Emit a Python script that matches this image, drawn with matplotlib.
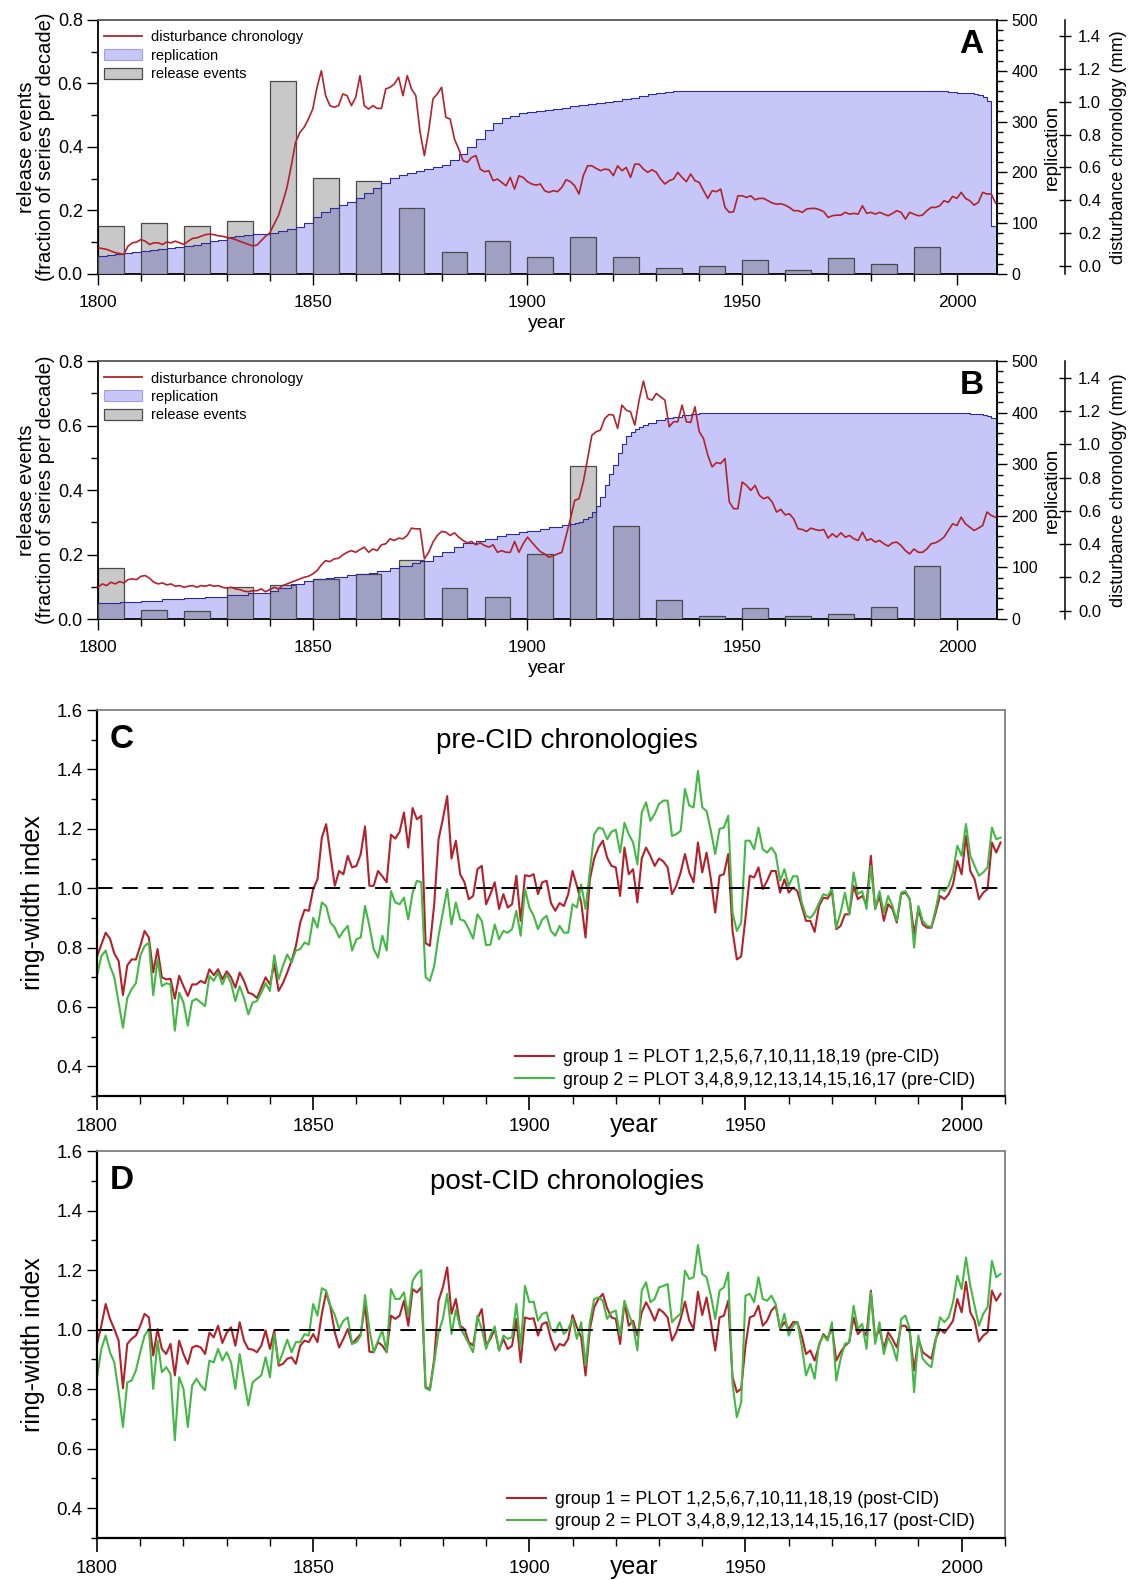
import numpy as np
import matplotlib
matplotlib.use("Agg")
import matplotlib.pyplot as plt
from matplotlib.ticker import MultipleLocator, FormatStrFormatter
from matplotlib.lines import Line2D
from matplotlib.patches import Patch

plt.rcParams['font.family'] = ['Liberation Sans', 'DejaVu Sans']

YEARS = np.arange(1800, 2010)
DECADES = np.arange(1800, 2000, 10)

# release events (fraction of series per decade)
release_a = [0.152, 0.160, 0.150, 0.167, 0.607, 0.303, 0.292, 0.207, 0.069, 0.105,
             0.054, 0.115, 0.053, 0.019, 0.024, 0.043, 0.011, 0.049, 0.032, 0.085]
release_b = [0.157, 0.027, 0.024, 0.100, 0.107, 0.125, 0.141, 0.183, 0.097, 0.069,
             0.203, 0.475, 0.290, 0.060, 0.008, 0.033, 0.010, 0.016, 0.038, 0.165]

# replication (number of series)
rep_years_a = [1800, 1802, 1804, 1806, 1808, 1810, 1812, 1814, 1816, 1818, 1820, 1822, 1824,
               1826, 1828, 1830, 1832, 1834, 1836, 1838, 1840, 1842, 1844, 1846, 1848, 1850,
               1852, 1854, 1856, 1858, 1860, 1862, 1864, 1866, 1868, 1870, 1872, 1874, 1876,
               1878, 1880, 1882, 1884, 1886, 1888, 1890, 1892, 1894, 1896, 1898, 1900, 1902,
               1904, 1906, 1908, 1910, 1912, 1914, 1916, 1918, 1920, 1922, 1924, 1926, 1928,
               1930, 1932, 1934, 1998, 2000, 2002, 2004, 2005, 2006, 2007, 2008, 2009]
rep_a = [36, 38, 40, 42, 43, 45, 47, 49, 51, 53, 55, 58, 61,
         64, 67, 72, 75, 77, 78, 79, 81, 85, 89, 93, 100, 112,
         121, 130, 136, 142, 150, 160, 170, 180, 188, 195, 199, 203, 206,
         210, 215, 224, 236, 250, 265, 284, 297, 306, 311, 316, 318, 320,
         322, 324, 327, 330, 333, 335, 337, 339, 340, 344, 347, 350, 354,
         357, 359, 360, 359, 357, 356, 355, 352, 348, 340, 95, 95]

rep_years_b = [1800, 1805, 1810, 1815, 1820, 1825, 1830, 1835, 1840, 1842, 1845, 1848, 1850,
               1853, 1855, 1858, 1860, 1863, 1865, 1868, 1870, 1873, 1875, 1878, 1880, 1883,
               1885, 1888, 1890, 1893, 1895, 1898, 1900, 1903, 1905, 1908, 1910, 1911, 1912,
               1913, 1914, 1915, 1916, 1917, 1918, 1919, 1920, 1921, 1922, 1923, 1924, 1925,
               1926, 1927, 1928, 1930, 1932, 1934, 1936, 1938, 1940, 1945, 2000, 2003, 2005,
               2006, 2007, 2008, 2009]
rep_b = [31, 33, 35, 38, 41, 43, 46, 50, 54, 60, 67, 74, 78,
         80, 82, 85, 87, 90, 93, 99, 103, 109, 113, 122, 129, 140,
         147, 152, 156, 161, 165, 168, 171, 175, 178, 182, 184, 186, 189,
         193, 197, 207, 220, 236, 259, 282, 298, 321, 340, 354, 363, 368,
         373, 377, 380, 386, 389, 392, 395, 397, 399, 400, 399, 398, 397,
         395, 393, 389, 386]

# disturbance chronology (mm), 1800-2009
dist_a = [
    0.110, 0.105, 0.100, 0.090, 0.080, 0.075, 0.070, 0.120, 0.140, 0.145,
    0.160, 0.150, 0.130, 0.140, 0.140, 0.130, 0.145, 0.140, 0.150, 0.140,
    0.130, 0.150, 0.167, 0.170, 0.180, 0.190, 0.193, 0.190, 0.183, 0.180,
    0.173, 0.168, 0.160, 0.150, 0.140, 0.130, 0.122, 0.126, 0.153, 0.180,
    0.200, 0.254, 0.305, 0.387, 0.478, 0.610, 0.753, 0.814, 0.845, 0.896,
    0.956, 1.089, 1.190, 1.038, 0.977, 0.967, 0.977, 1.048, 1.038, 0.977,
    1.028, 1.160, 0.977, 0.956, 0.977, 0.960, 0.960, 1.079, 1.089, 1.109,
    1.150, 1.038, 1.160, 1.079, 1.038, 0.814, 0.672, 0.824, 1.018, 1.048,
    1.089, 0.906, 0.895, 0.773, 0.712, 0.641, 0.631, 0.661, 0.672, 0.590,
    0.574, 0.580, 0.519, 0.529, 0.509, 0.488, 0.539, 0.468, 0.549, 0.539,
    0.513, 0.499, 0.492, 0.499, 0.458, 0.448, 0.458, 0.452, 0.478, 0.525,
    0.513, 0.488, 0.438, 0.550, 0.610, 0.610, 0.594, 0.580, 0.590, 0.586,
    0.550, 0.610, 0.580, 0.600, 0.539, 0.620, 0.620, 0.590, 0.570, 0.586,
    0.570, 0.529, 0.499, 0.519, 0.529, 0.570, 0.539, 0.513, 0.560, 0.519,
    0.509, 0.458, 0.411, 0.458, 0.452, 0.468, 0.356, 0.326, 0.330, 0.427,
    0.427, 0.417, 0.427, 0.403, 0.411, 0.411, 0.397, 0.383, 0.376, 0.378,
    0.370, 0.356, 0.336, 0.336, 0.326, 0.346, 0.350, 0.350, 0.342, 0.330,
    0.295, 0.305, 0.309, 0.309, 0.326, 0.315, 0.320, 0.315, 0.366, 0.320,
    0.326, 0.315, 0.326, 0.315, 0.305, 0.320, 0.336, 0.326, 0.285, 0.326,
    0.315, 0.305, 0.309, 0.336, 0.356, 0.356, 0.366, 0.397, 0.387, 0.423,
    0.411, 0.448, 0.411, 0.397, 0.370, 0.387, 0.448, 0.438, 0.438, 0.383]

dist_b = [
    0.141, 0.161, 0.151, 0.171, 0.161, 0.175, 0.167, 0.187, 0.191, 0.187,
    0.207, 0.211, 0.195, 0.171, 0.161, 0.167, 0.155, 0.161, 0.147, 0.151,
    0.141, 0.147, 0.151, 0.141, 0.151, 0.147, 0.155, 0.147, 0.151, 0.141,
    0.135, 0.141, 0.131, 0.127, 0.118, 0.114, 0.120, 0.120, 0.131, 0.114,
    0.127, 0.141, 0.131, 0.151, 0.161, 0.171, 0.181, 0.191, 0.201, 0.207,
    0.221, 0.241, 0.275, 0.301, 0.295, 0.311, 0.315, 0.335, 0.351, 0.361,
    0.351, 0.367, 0.382, 0.351, 0.371, 0.361, 0.396, 0.402, 0.432, 0.422,
    0.436, 0.432, 0.452, 0.496, 0.492, 0.492, 0.311, 0.351, 0.412, 0.452,
    0.476, 0.472, 0.452, 0.468, 0.442, 0.422, 0.408, 0.416, 0.396, 0.408,
    0.392, 0.382, 0.396, 0.351, 0.361, 0.351, 0.351, 0.416, 0.351, 0.402,
    0.442, 0.412, 0.382, 0.355, 0.341, 0.321, 0.331, 0.341, 0.351, 0.450,
    0.552, 0.663, 0.673, 0.773, 0.914, 1.054, 1.075, 1.085, 1.155, 1.179,
    1.175, 1.095, 1.235, 1.205, 1.195, 1.115, 1.265, 1.380, 1.275, 1.265,
    1.305, 1.285, 1.265, 1.105, 1.135, 1.135, 1.235, 1.135, 1.131, 1.225,
    1.075, 1.034, 0.934, 0.864, 0.890, 0.884, 0.914, 0.653, 0.613, 0.613,
    0.773, 0.753, 0.723, 0.753, 0.693, 0.673, 0.683, 0.653, 0.593, 0.609,
    0.576, 0.582, 0.552, 0.492, 0.488, 0.476, 0.496, 0.488, 0.482, 0.488,
    0.436, 0.462, 0.442, 0.468, 0.442, 0.452, 0.432, 0.422, 0.472, 0.422,
    0.432, 0.412, 0.422, 0.402, 0.388, 0.408, 0.412, 0.392, 0.361, 0.341,
    0.371, 0.351, 0.351, 0.371, 0.402, 0.408, 0.422, 0.442, 0.482, 0.522,
    0.512, 0.562, 0.522, 0.502, 0.482, 0.496, 0.512, 0.593, 0.572, 0.562]

# ring-width index, 1800-2009
g1_pre = [
    0.770, 0.810, 0.850, 0.830, 0.780, 0.755, 0.640, 0.740, 0.760, 0.760,
    0.805, 0.856, 0.834, 0.716, 0.795, 0.700, 0.693, 0.695, 0.628, 0.705,
    0.670, 0.637, 0.676, 0.676, 0.688, 0.680, 0.727, 0.707, 0.727, 0.693,
    0.720, 0.700, 0.665, 0.716, 0.688, 0.648, 0.643, 0.630, 0.665, 0.700,
    0.676, 0.744, 0.654, 0.680, 0.716, 0.755, 0.805, 0.884, 0.927, 0.924,
    0.997, 1.030, 1.170, 1.216, 1.110, 1.008, 1.058, 1.047, 1.109, 1.070,
    1.075, 1.115, 1.208, 1.008, 1.008, 1.058, 1.040, 1.020, 1.180, 1.167,
    1.190, 1.255, 1.137, 1.270, 1.232, 1.244, 0.815, 0.806, 0.946, 1.165,
    1.233, 1.310, 1.100, 1.160, 1.047, 1.020, 0.963, 0.974, 1.064, 1.075,
    0.946, 0.980, 1.020, 0.930, 0.980, 0.935, 0.946, 1.042, 0.890, 1.044,
    1.040, 1.047, 0.980, 1.020, 1.025, 0.950, 0.924, 0.950, 0.940, 0.980,
    1.058, 1.008, 0.952, 0.834, 1.030, 1.100, 1.137, 1.160, 1.103, 1.075,
    1.070, 0.974, 1.137, 1.047, 1.064, 0.952, 1.100, 1.137, 1.109, 1.075,
    1.100, 1.090, 1.070, 0.980, 1.008, 1.053, 1.115, 1.053, 1.020, 1.154,
    1.053, 1.120, 1.030, 0.918, 1.042, 1.047, 1.115, 0.856, 0.760, 0.770,
    0.900, 1.042, 1.036, 1.070, 0.997, 1.025, 1.058, 1.058, 0.985, 1.030,
    0.985, 1.002, 0.990, 0.940, 0.890, 0.890, 0.853, 0.940, 0.968, 0.965,
    0.990, 0.862, 0.873, 0.912, 0.912, 1.008, 0.963, 0.974, 0.946, 1.109,
    0.930, 0.974, 0.890, 0.946, 0.930, 0.884, 0.980, 0.985, 0.963, 0.845,
    0.930, 0.878, 0.867, 0.867, 0.918, 0.974, 0.963, 0.980, 1.013, 1.092,
    1.047, 1.176, 1.058, 1.030, 0.963, 0.985, 0.997, 1.154, 1.120, 1.154]

g2_pre = [
    0.705, 0.772, 0.790, 0.738, 0.700, 0.615, 0.530, 0.630, 0.660, 0.680,
    0.772, 0.805, 0.817, 0.640, 0.760, 0.670, 0.680, 0.676, 0.520, 0.648,
    0.615, 0.537, 0.620, 0.627, 0.615, 0.603, 0.705, 0.688, 0.716, 0.676,
    0.710, 0.680, 0.620, 0.670, 0.630, 0.575, 0.615, 0.620, 0.648, 0.680,
    0.654, 0.774, 0.693, 0.738, 0.777, 0.750, 0.790, 0.795, 0.817, 0.810,
    0.900, 0.867, 0.952, 0.940, 0.884, 0.867, 0.834, 0.856, 0.873, 0.790,
    0.828, 0.834, 0.940, 0.873, 0.795, 0.766, 0.840, 0.790, 0.990, 0.952,
    0.946, 0.968, 0.895, 0.985, 1.025, 1.020, 0.700, 0.688, 0.738, 0.840,
    0.918, 0.997, 0.878, 0.952, 0.895, 0.890, 0.862, 0.830, 0.912, 0.890,
    0.808, 0.810, 0.878, 0.828, 0.856, 0.850, 0.862, 0.924, 0.840, 0.997,
    0.935, 0.907, 0.862, 0.895, 0.907, 0.856, 0.840, 0.873, 0.850, 0.850,
    0.946, 0.935, 1.013, 0.930, 1.058, 1.182, 1.204, 1.200, 1.165, 1.190,
    1.197, 1.120, 1.220, 1.182, 1.154, 1.080, 1.255, 1.289, 1.227, 1.250,
    1.284, 1.295, 1.295, 1.176, 1.182, 1.193, 1.334, 1.278, 1.272, 1.395,
    1.272, 1.260, 1.193, 1.115, 1.200, 1.204, 1.244, 0.918, 0.856, 0.884,
    1.160, 1.160, 1.131, 1.204, 1.131, 1.120, 1.137, 1.115, 1.025, 1.064,
    1.008, 1.040, 1.040, 0.952, 0.907, 0.900, 0.918, 0.950, 0.980, 0.974,
    0.997, 0.867, 0.918, 0.985, 0.912, 1.053, 0.980, 0.990, 0.930, 1.075,
    0.930, 0.990, 0.918, 0.974, 0.940, 0.890, 0.985, 0.990, 0.963, 0.800,
    0.940, 0.890, 0.873, 0.870, 0.930, 1.002, 0.990, 1.008, 1.053, 1.143,
    1.109, 1.216, 1.109, 1.075, 1.042, 1.053, 1.070, 1.204, 1.165, 1.170]

g1_post = [
    0.952, 1.013, 1.086, 1.036, 1.002, 0.963, 0.803, 0.952, 0.969, 0.980,
    1.013, 1.053, 1.041, 0.913, 1.002, 0.935, 0.918, 0.952, 0.846, 0.963,
    0.918, 0.885, 0.940, 0.946, 0.940, 0.918, 0.990, 0.974, 1.013, 0.955,
    0.990, 1.008, 0.946, 1.025, 0.963, 0.935, 0.933, 0.924, 0.946, 0.997,
    0.935, 0.997, 0.879, 0.885, 0.902, 0.907, 0.885, 0.946, 0.963, 0.958,
    0.985, 0.958, 1.053, 1.125, 1.075, 0.991, 0.940, 0.969, 1.002, 0.952,
    0.969, 0.985, 1.086, 0.926, 0.924, 0.958, 0.946, 0.924, 1.047, 1.036,
    1.047, 1.097, 1.013, 1.136, 1.125, 1.142, 0.807, 0.800, 0.902, 1.097,
    1.142, 1.209, 1.053, 1.103, 1.013, 1.002, 0.958, 0.946, 1.036, 1.069,
    0.946, 0.969, 1.002, 0.930, 0.969, 0.935, 0.946, 1.036, 0.890, 1.041,
    1.036, 1.038, 0.980, 1.019, 1.025, 0.969, 0.930, 0.952, 0.946, 0.969,
    1.049, 1.008, 0.974, 0.846, 1.002, 1.075, 1.103, 1.120, 1.072, 1.041,
    1.036, 0.952, 1.092, 1.013, 1.030, 0.980, 1.058, 1.092, 1.064, 1.030,
    1.069, 1.058, 1.041, 0.963, 0.991, 1.036, 1.094, 1.030, 1.002, 1.127,
    1.049, 1.108, 1.025, 0.930, 1.041, 1.047, 1.097, 0.840, 0.790, 0.801,
    0.946, 1.041, 1.047, 1.080, 1.013, 1.030, 1.064, 1.080, 1.002, 1.025,
    1.002, 1.025, 1.025, 0.980, 0.918, 0.930, 0.896, 0.946, 0.985, 0.969,
    1.008, 0.896, 0.924, 0.946, 0.958, 1.041, 0.985, 1.002, 0.980, 1.131,
    0.969, 1.002, 0.935, 0.991, 0.969, 0.940, 1.013, 1.013, 0.991, 0.863,
    0.969, 0.924, 0.913, 0.902, 0.969, 1.002, 0.989, 1.008, 1.030, 1.103,
    1.058, 1.161, 1.058, 1.030, 0.960, 0.980, 0.991, 1.131, 1.097, 1.120]

g2_post = [
    0.840, 0.935, 0.980, 0.924, 0.890, 0.790, 0.673, 0.823, 0.829, 0.863,
    0.924, 0.980, 1.002, 0.801, 0.963, 0.857, 0.874, 0.851, 0.628, 0.840,
    0.801, 0.673, 0.812, 0.835, 0.812, 0.796, 0.896, 0.890, 0.935, 0.896,
    0.924, 0.890, 0.801, 0.918, 0.829, 0.745, 0.823, 0.835, 0.846, 0.907,
    0.840, 0.985, 0.885, 0.924, 0.966, 0.924, 0.958, 0.958, 0.985, 0.980,
    1.086, 1.047, 1.139, 1.131, 1.080, 1.049, 1.002, 1.030, 1.041, 0.952,
    0.958, 0.980, 1.116, 1.002, 0.924, 0.963, 0.997, 0.924, 1.136, 1.103,
    1.103, 1.125, 1.047, 1.164, 1.187, 1.200, 0.803, 0.796, 0.890, 0.991,
    1.036, 1.120, 0.985, 1.067, 1.008, 0.980, 0.952, 0.924, 1.047, 1.002,
    0.935, 0.980, 1.011, 0.930, 0.980, 0.969, 0.974, 1.086, 0.940, 1.147,
    1.092, 1.094, 1.030, 1.053, 1.058, 1.002, 0.991, 1.025, 0.985, 1.002,
    1.036, 0.969, 1.025, 0.879, 1.025, 1.103, 1.108, 1.097, 1.036, 1.058,
    1.064, 0.980, 1.097, 1.053, 1.013, 0.930, 1.131, 1.159, 1.092, 1.103,
    1.142, 1.147, 1.153, 1.025, 1.041, 1.053, 1.198, 1.170, 1.176, 1.284,
    1.187, 1.176, 1.114, 1.036, 1.131, 1.142, 1.192, 0.818, 0.706, 0.756,
    1.114, 1.120, 1.092, 1.176, 1.103, 1.097, 1.114, 1.086, 1.002, 1.053,
    0.980, 1.013, 1.025, 0.946, 0.846, 0.885, 0.835, 0.952, 0.980, 0.963,
    1.025, 0.829, 0.902, 0.952, 0.958, 1.080, 1.002, 1.019, 0.935, 1.125,
    0.952, 1.025, 0.918, 0.974, 0.946, 0.896, 1.036, 1.047, 1.002, 0.790,
    0.980, 0.902, 0.885, 0.874, 0.963, 1.041, 1.025, 1.041, 1.092, 1.181,
    1.136, 1.242, 1.147, 1.080, 1.013, 1.053, 1.075, 1.231, 1.176, 1.187]

RED = '#b3222b'
GREEN = '#44b844'
FILL = '#c6c6f8'
FILL_EDGE = '#2c2c96'
BAR = '#c8c8c8'
BAR_UNDER = '#a0a0c2'
BAR_EDGE = '#4a4a4a'

fig = plt.figure(figsize=(11.32, 15.80), dpi=100)


def disturbance_panel(rect, letter, release, rep_years, rep, dist):
    ax = fig.add_axes(rect)
    ax_r = ax.twinx()
    ax_d = ax.twinx()
    ax_r.set_ylim(0, 500)

    ax.bar(DECADES, release, width=6, align='edge', color=BAR, edgecolor=BAR_EDGE,
           lw=0.9, zorder=1)
    fill = ax.fill_between(rep_years, 0, rep, step='post', transform=ax_r.transData,
                           color=FILL, lw=0, zorder=2)
    clip = fill.get_paths()[0]
    under = ax.bar(DECADES, release, width=6, align='edge', color=BAR_UNDER,
                   edgecolor=BAR_EDGE, lw=0.9, zorder=3)
    for p in under:
        p.set_clip_path(clip, ax_r.transData)
    ax.step(rep_years, rep, where='post', transform=ax_r.transData, color=FILL_EDGE,
            lw=0.8, zorder=4)
    ax_d.plot(YEARS, dist, color=RED, lw=1.2)

    ax.set_xlim(1800, 2009.3)
    ax.set_ylim(0, 0.8)
    ax_r.set_ylim(0, 500)
    ax_d.set_ylim(-0.05, 1.5)

    ax.xaxis.set_major_locator(MultipleLocator(50))
    ax.xaxis.set_minor_locator(MultipleLocator(10))
    ax.yaxis.set_major_locator(MultipleLocator(0.2))
    ax.yaxis.set_minor_locator(MultipleLocator(0.1))
    ax.yaxis.set_major_formatter(FormatStrFormatter('%.1f'))
    ax.tick_params(which='major', length=8, width=1, direction='out')
    ax.tick_params(which='minor', length=5, width=1, direction='out')
    ax.tick_params(axis='x', labelsize=12.5, pad=7)
    ax.tick_params(axis='y', labelsize=13, pad=3)
    ax.set_xlabel('year', fontsize=14, labelpad=4)
    ax.set_ylabel('release events\n(fraction of series per decade)', fontsize=14.5,
                  linespacing=1.0, labelpad=2)

    ax_r.yaxis.set_major_locator(MultipleLocator(100))
    ax_r.yaxis.set_minor_locator(MultipleLocator(20))
    ax_r.tick_params(which='major', length=7, width=1, labelsize=11.5, direction='out')
    ax_r.tick_params(which='minor', length=4, width=1, direction='out')
    ax_r.set_ylabel('replication', fontsize=13.5, labelpad=4)

    ax_d.spines['right'].set_position(('outward', 49))
    ax_d.yaxis.set_major_locator(MultipleLocator(0.2))
    ax_d.yaxis.set_major_formatter(FormatStrFormatter('%.1f'))
    ax_d.tick_params(length=9, width=1, labelsize=12, direction='inout', pad=5)
    ax_d.set_ylabel('disturbance chronology (mm)', fontsize=13, labelpad=6)

    for a in (ax, ax_r, ax_d):
        for s in ('top', 'left', 'bottom'):
            a.spines[s].set_linewidth(1.3)
        a.spines['right'].set_linewidth(1.1)
    ax.spines['top'].set_color('#555555')
    for s in ('top', 'left', 'bottom'):
        ax_d.spines[s].set_visible(False)
        ax_r.spines[s].set_visible(False)

    ax.text(0.972, 0.905, letter, transform=ax.transAxes, fontsize=24, weight='bold',
            ha='center', va='center', zorder=6)

    handles = [Line2D([], [], color=RED, lw=1.3),
               Patch(facecolor=FILL, edgecolor='#a0a0e8', lw=0.8),
               Patch(facecolor=BAR, edgecolor=BAR_EDGE, lw=0.9)]
    ax_d.legend(handles, ['disturbance chronology', 'replication', 'release events'],
                loc='upper left', bbox_to_anchor=(-0.008, 1.01), frameon=False,
                fontsize=10.5, handlelength=2.6, handleheight=0.8, handletextpad=0.6,
                labelspacing=0.3)


def ring_panel(rect, letter, title, g1, g2, tag):
    ax = fig.add_axes(rect)
    ax.plot(YEARS, g1, color=RED, lw=1.5, zorder=2,
            label=f'group 1 = PLOT 1,2,5,6,7,10,11,18,19 ({tag})')
    ax.plot(YEARS, g2, color=GREEN, lw=1.5, zorder=2,
            label=f'group 2 = PLOT 3,4,8,9,12,13,14,15,16,17 ({tag})')
    ax.axhline(1.0, color='black', lw=1.4, dashes=(8, 5), zorder=3)

    ax.set_xlim(1800, 2010)
    ax.set_ylim(0.3, 1.6)
    ax.xaxis.set_major_locator(MultipleLocator(50))
    ax.xaxis.set_minor_locator(MultipleLocator(10))
    ax.yaxis.set_minor_locator(MultipleLocator(0.1))
    ax.set_yticks([0.4, 0.6, 0.8, 1.0, 1.2, 1.4, 1.6])
    ax.yaxis.set_major_formatter(FormatStrFormatter('%.1f'))
    ax.tick_params(axis='x', which='major', length=10, width=1.2, labelsize=13.5,
                   direction='out', pad=6)
    ax.tick_params(axis='x', which='minor', length=6, width=1, direction='out')
    ax.tick_params(axis='y', which='major', length=7, width=1, labelsize=13.5,
                   direction='out')
    ax.tick_params(axis='y', which='minor', length=4, width=1, direction='out')
    ax.set_ylabel('ring-width index', fontsize=18, labelpad=8)

    ax.spines['left'].set_linewidth(1.6)
    ax.spines['bottom'].set_linewidth(1.6)
    for s in ('top', 'right'):
        ax.spines[s].set_color('#808080')
        ax.spines[s].set_linewidth(1.3)

    ax.text(0.592, -0.075, 'year', transform=ax.transAxes, fontsize=18,
            ha='center', va='center')
    ax.text(0.518, 0.92, title, transform=ax.transAxes, fontsize=20,
            ha='center', va='center')
    ax.text(0.014, 0.925, letter, transform=ax.transAxes, fontsize=24, weight='bold',
            ha='left', va='center')
    ax.legend(loc='lower right', bbox_to_anchor=(0.985, -0.022), frameon=False,
              fontsize=12.8, handlelength=2.2, handletextpad=0.5, labelspacing=0.3)


disturbance_panel([0.0866, 0.8266, 0.794, 0.1608], 'A', release_a, rep_years_a, rep_a, dist_a)
disturbance_panel([0.0866, 0.6082, 0.794, 0.1633], 'B', release_b, rep_years_b, rep_b, dist_b)
ring_panel([0.0857, 0.3063, 0.802, 0.2443], 'C', 'pre-CID chronologies',
           g1_pre, g2_pre, 'pre-CID')
ring_panel([0.0857, 0.0266, 0.802, 0.2449], 'D', 'post-CID chronologies',
           g1_post, g2_post, 'post-CID')

fig.savefig('out.png', dpi=100)
